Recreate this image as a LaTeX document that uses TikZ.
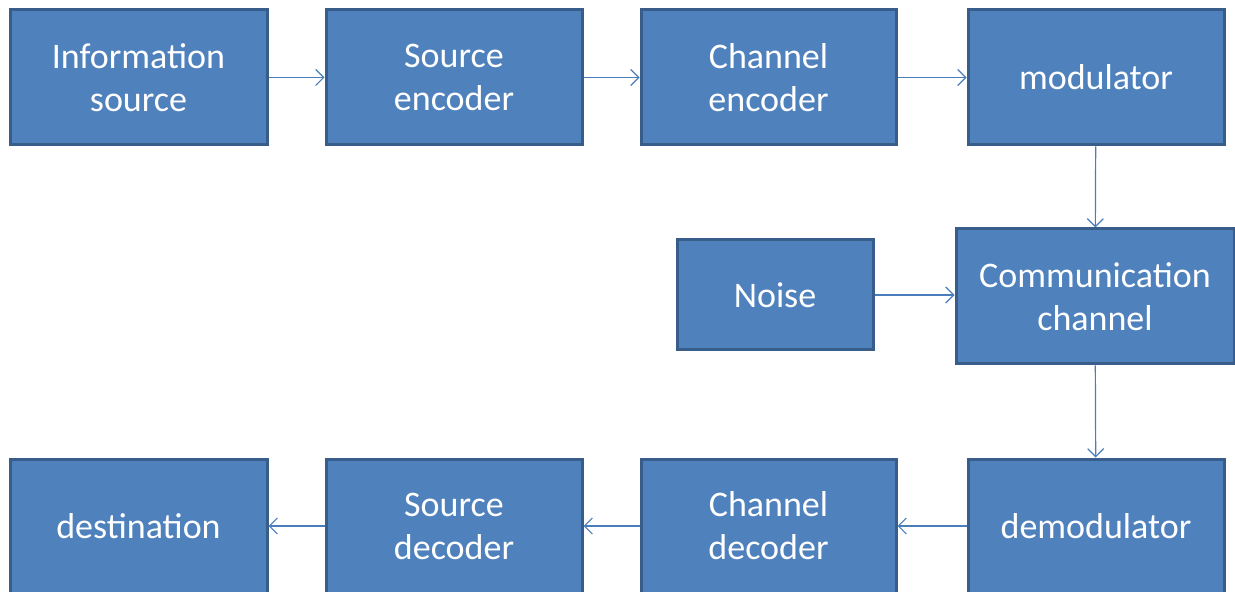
\documentclass[tikz,border=0pt]{standalone}
\usepackage{fontspec}
\setmainfont{Carlito}
\usetikzlibrary{arrows.meta}
\definecolor{boxfill}{HTML}{4F81BD}
\definecolor{boxline}{HTML}{385D8A}
\definecolor{arrowc}{HTML}{4A7EBB}
\begin{document}
\begin{tikzpicture}[x=0.5pt,y=-0.5pt,
  box/.style={draw=boxline, fill=boxfill, line width=1.5pt, inner sep=0pt,
    text=white, align=center, font=\fontsize{18pt}{21.5pt}\selectfont},
  conn/.style={draw=arrowc, line width=0.6pt, -{Straight Barb[length=4pt,width=8pt]}}]
\useasboundingbox (0,0) rectangle (1235,592);
% row 1
\node[box, minimum width=128.5pt, minimum height=67.5pt] (info) at (138.5,77.5) {Information\\source};
\node[box, minimum width=128pt, minimum height=67.5pt] (senc) at (454,77.5) {Source\\encoder};
\node[box, minimum width=127.5pt, minimum height=67.5pt] (cenc) at (768.5,77.5) {Channel\\encoder};
\node[box, minimum width=128pt, minimum height=67.5pt] (mod) at (1096,77.5) {modulator};
% middle
\node[box, minimum width=98pt, minimum height=55pt] (noise) at (775,295) {Noise};
\node[box, minimum width=139pt, minimum height=67.5pt] (chan) at (1095,296.5) {Communication\\channel};
% row 3
\node[box, minimum width=128.5pt, minimum height=67pt] (dest) at (138.5,526) {destination};
\node[box, minimum width=128pt, minimum height=67pt] (sdec) at (454,526) {Source\\decoder};
\node[box, minimum width=127.5pt, minimum height=67pt] (cdec) at (768.5,526) {Channel\\decoder};
\node[box, minimum width=128pt, minimum height=67pt] (demod) at (1096,526) {demodulator};
% connectors
\draw[conn] (info) -- (senc);
\draw[conn] (senc) -- (cenc);
\draw[conn] (cenc) -- (mod);
\draw[conn] (mod) -- (chan);
\draw[conn] (noise) -- (noise -| chan.west);
\draw[conn] (chan) -- (demod);
\draw[conn] (demod) -- (cdec);
\draw[conn] (cdec) -- (sdec);
\draw[conn] (sdec) -- (dest);
\end{tikzpicture}
\end{document}
